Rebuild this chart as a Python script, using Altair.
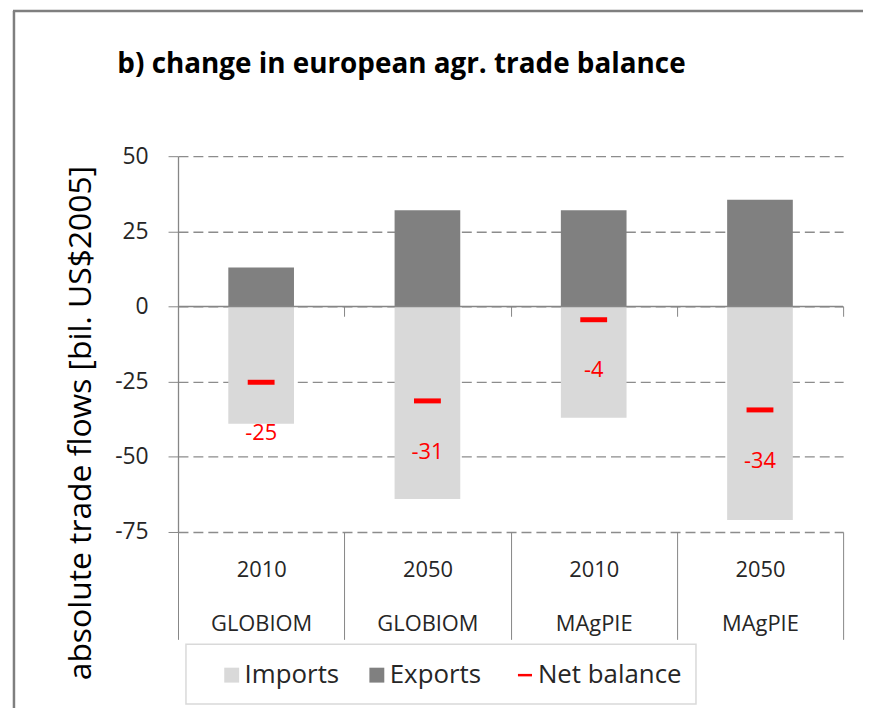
import altair as alt
import pandas as pd

# ---- data ----
models = ["GLOBIOM", "GLOBIOM", "MAgPIE", "MAgPIE"]
years = ["2010", "2050", "2010", "2050"]
imports = [-39, -64, -37, -71]
exports = [13, 32, 32, 35.5]
net_balance = [-25.2, -31.4, -4.4, -34.4]
net_labels = ["-25", "-31", "-4", "-34"]
bar_series = ["Imports", "Exports"]
bar_colors = ["#d9d9d9", "#808080"]
net_series = ["Net balance"]
net_colors = ["#ff0000"]
y_ticks = [-75, -50, -25, 0, 25, 50]

cats = [f"{y}|{m}" for y, m in zip(years, models)]

bars_df = pd.DataFrame({
    "cat": cats * 2,
    "series": ["Imports"] * 4 + ["Exports"] * 4,
    "value": imports + exports,
})
net_df = pd.DataFrame({
    "cat": cats,
    "series": net_series * 4,
    "value": net_balance,
    "label": net_labels,
})
one = pd.DataFrame({"k": [0]})

FONT = "Open Sans"
AX = "#868686"
TXT = "#262626"

yscale = alt.Scale(domain=[-75, 50], nice=False, zero=False)
xscale = alt.Scale(paddingInner=0, paddingOuter=0)

legend_bars = alt.Legend(
    orient="none", legendX=41, legendY=509, direction="horizontal", title=None,
    labelFont=FONT, labelFontSize=26, labelColor=TXT, labelOffset=0,
    symbolType="square", symbolSize=225, symbolStrokeWidth=0, columnPadding=24, padding=0,
)
legend_net = alt.Legend(
    orient="none", legendX=336, legendY=509, direction="horizontal", title=None,
    labelFont=FONT, labelFontSize=26, labelColor=TXT, labelOffset=0,
    symbolType="stroke", symbolSize=200, symbolStrokeColor="#ff0000",
    symbolStrokeWidth=2.5, padding=0,
)

bars = alt.Chart(bars_df).mark_bar(width={"band": 0.395}).encode(
    x=alt.X("cat:N", sort=cats, scale=xscale, axis=alt.Axis(
        orient="bottom", title=None, domain=False, grid=False, labelAngle=0,
        tickBand="extent", tickSize=108, tickColor=AX, tickWidth=1,
        labelExpr="split(datum.label, '|')", labelFont=FONT, labelFontSize=22,
        labelColor=TXT, labelLineHeight=54, labelBaseline="middle", labelPadding=-70,
    )),
    y=alt.Y("value:Q", stack=None, scale=yscale, axis=alt.Axis(
        values=y_ticks, title="absolute trade flows [bil. US$2005]",
        labelExpr="'' + datum.value",
        titleFont=FONT, titleFontSize=32, titleFontWeight="normal", titleColor="#000000",
        titleAngle=270, titleX=-88, titleY=268, titleAlign="center", titleBaseline="alphabetic",
        labelFont=FONT, labelFontSize=23, labelColor=TXT, labelPadding=20,
        tickSize=10, tickColor=AX, tickWidth=1, domainColor=AX, domainWidth=1.3,
        grid=True, gridDash=[10, 5], gridColor="#8c8c8c", gridWidth=1.3,
    )),
    color=alt.Color("series:N", scale=alt.Scale(domain=bar_series, range=bar_colors), legend=legend_bars),
)

zero = alt.Chart(one).mark_rule(color=AX, strokeWidth=1.5).encode(y=alt.datum(0))

net_tick = alt.Chart(net_df).mark_tick(size=27, thickness=5, opacity=1).encode(
    x=alt.X("cat:N", sort=cats, axis=None),
    y=alt.Y("value:Q"),
    color=alt.Color("series:N", scale=alt.Scale(domain=net_series, range=net_colors), legend=legend_net),
)

net_text = alt.Chart(net_df).mark_text(
    dy=51, font=FONT, fontSize=22, color="#ff0000", baseline="middle"
).encode(
    x=alt.X("cat:N", sort=cats, axis=alt.Axis(
        orient="top", offset=-161, tickSize=10, tickColor=AX, tickWidth=1,
        labels=False, domain=False, grid=False, title=None, tickBand="extent",
    )),
    y=alt.Y("value:Q"),
    text="label:N",
)

legend_box = alt.Chart(one).mark_rect(fill="white", stroke="#d9d9d9", strokeWidth=1.5).encode(
    x=alt.value(8), x2=alt.value(521), y=alt.value(491), y2=alt.value(551)
)

frame_left = alt.Chart(one).mark_rule(color="#7f7f7f", strokeWidth=2.5).encode(
    x=alt.value(-165), y=alt.value(-146), y2=alt.value(600)
)
frame_top = alt.Chart(one).mark_rule(color="#7f7f7f", strokeWidth=2.5).encode(
    x=alt.value(-166), x2=alt.value(720), y=alt.value(-146)
)

chart = alt.layer(
    bars, zero, net_tick, net_text, legend_box, frame_left, frame_top
).resolve_axis(x="independent").resolve_scale(color="independent").properties(
    width=669, height=378,
    autosize=alt.AutoSizeParams(type="none"),
    padding={"left": 171, "top": 147, "right": 20, "bottom": 175},
    background="white",
    title=alt.Title(
        "b) change in european agr. trade balance", anchor="start", frame="group",
        font=FONT, fontSize=28, fontWeight="bold", color="#000000",
        offset=0, baseline="alphabetic", dx=-61, dy=92,
    ),
).configure_view(stroke=None)

chart.save("out.html", embed_options={"renderer": "svg", "actions": False})
